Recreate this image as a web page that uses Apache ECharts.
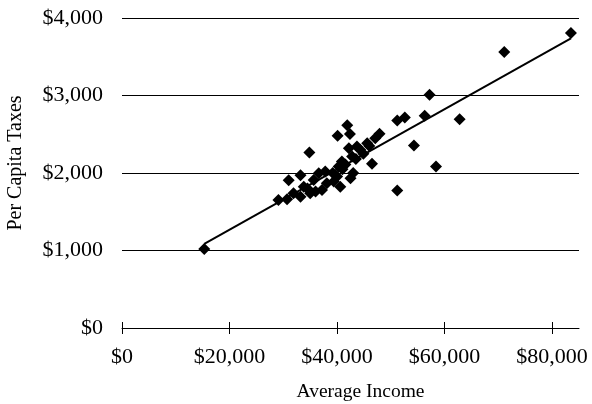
<!DOCTYPE html>
<html>
<head>
<meta charset="utf-8">
<script src="https://cdn.jsdelivr.net/npm/echarts@6/dist/echarts.min.js"></script>
<style>
html,body{margin:0;padding:0;background:#fff;}
#c{width:592px;height:404px;}
</style>
</head>
<body>
<div id="c"></div>
<script>
// Average income (x) and per capita taxes (y)
var incomes = [15300, 83500, 71100, 57200, 51200, 52600, 56300, 62800, 54300, 58400,
  51200, 47900, 46500, 41900, 40100, 42400, 34850, 42200, 43700, 40900,
  42800, 44300, 45600, 47100, 46000, 44900, 43500, 31000, 33200, 29100,
  30700, 31900, 33200, 33800, 35000, 35650, 36600, 37800, 38100, 37200,
  39400, 40600, 40000, 41550, 40300, 42500, 41000, 39200, 36000, 34500, 43000];
var taxes = [1020, 3806, 3561, 3009, 2677, 2716, 2738, 2695, 2354, 2083,
  1773, 2505, 2120, 2615, 2480, 2503, 2264, 2320, 2341, 2147,
  2212, 2299, 2385, 2450, 2350, 2250, 2180, 1905, 1970, 1652,
  1661, 1739, 1695, 1824, 1739, 1911, 1997, 2018, 1868, 1782,
  1889, 1824, 1954, 2109, 2083, 1933, 2050, 2000, 1760, 1800, 2000];
// Trend line end points
var trendX = [15300, 83500];
var trendY = [1084, 3736];
var xTicks = [0, 20000, 40000, 60000, 80000];
var yTicks = [0, 1000, 2000, 3000, 4000];

var FONT = "'Liberation Serif','Times New Roman',serif";
function money(v){ return '$' + Math.round(v).toLocaleString('en-US'); }

var points = incomes.map(function(x, i){ return [x, taxes[i]]; });
var trend = trendX.map(function(x, i){ return [x, trendY[i]]; });

var chart = echarts.init(document.getElementById('c'), null, {renderer:'canvas'});
chart.setOption({
  animation: false,
  backgroundColor: '#fff',
  grid: {left: 122, right: 13, top: 18, bottom: 76, containLabel: false, outerBoundsMode: 'none'},
  xAxis: [{
    type: 'value', min: 0, max: 85000, interval: 20000, position: 'bottom',
    name: 'Average Income', nameLocation: 'middle', nameGap: 54,
    nameTextStyle: {fontFamily: FONT, fontSize: 19.5, color: '#000', padding: [0,0,0,20]},
    axisLine: {show: true, lineStyle: {color: '#000', width: 1}},
    axisTick: {show: true, length: 6, customValues: xTicks, lineStyle: {color: '#000'}},
    axisLabel: {customValues: xTicks, formatter: money, fontFamily: FONT, fontSize: 22, color: '#000', margin: 18},
    splitLine: {show: false}
  }, {
    type: 'value', min: 0, max: 85000, interval: 20000, position: 'bottom',
    axisLine: {show: false},
    axisTick: {show: true, inside: true, length: 6, customValues: xTicks, lineStyle: {color: '#000'}},
    axisLabel: {show: false},
    splitLine: {show: false}
  }],
  yAxis: {
    type: 'value', min: 0, max: 4000, interval: 1000,
    name: 'Per Capita Taxes', nameLocation: 'middle', nameGap: 96,
    nameTextStyle: {fontFamily: FONT, fontSize: 20, color: '#000', padding: [0,0,0,20]},
    axisLine: {show: false},
    axisTick: {show: false},
    axisLabel: {customValues: yTicks, formatter: money, fontFamily: FONT, fontSize: 22, color: '#000', margin: 19},
    splitLine: {show: true, lineStyle: {color: '#000', width: 1}}
  },
  series: [{
    type: 'scatter',
    data: points,
    symbol: 'diamond',
    symbolSize: 12,
    itemStyle: {color: '#000', opacity: 1},
    z: 3
  }, {
    type: 'line',
    data: trend,
    symbol: 'none',
    lineStyle: {color: '#000', width: 2},
    z: 4
  }]
});
</script>
</body>
</html>
